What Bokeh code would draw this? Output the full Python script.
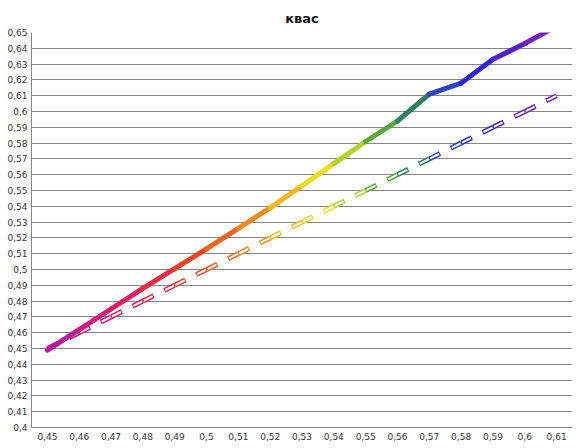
from bokeh.plotting import figure
from bokeh.models import ColumnDataSource, FactorRange, Range1d, FixedTicker
from bokeh.embed import file_html
from bokeh.resources import INLINE

# ---- data ----
x_labels = ["0,45", "0,46", "0,47", "0,48", "0,49", "0,5", "0,51", "0,52", "0,53",
            "0,54", "0,55", "0,56", "0,57", "0,58", "0,59", "0,6", "0,61"]
solid_values = [0.449, 0.462, 0.475, 0.488, 0.5005, 0.513, 0.526, 0.539, 0.553,
                0.567, 0.581, 0.594, 0.611, 0.618, 0.633, 0.643, 0.654]
diagonal_values = [0.45, 0.46, 0.47, 0.48, 0.49, 0.50, 0.51, 0.52, 0.53,
                   0.54, 0.55, 0.56, 0.57, 0.58, 0.59, 0.60, 0.61]
y_ticks = [0.40, 0.41, 0.42, 0.43, 0.44, 0.45, 0.46, 0.47, 0.48, 0.49, 0.50, 0.51, 0.52,
           0.53, 0.54, 0.55, 0.56, 0.57, 0.58, 0.59, 0.60, 0.61, 0.62, 0.63, 0.64, 0.65]
y_tick_labels = ["0,4", "0,41", "0,42", "0,43", "0,44", "0,45", "0,46", "0,47", "0,48", "0,49",
                 "0,5", "0,51", "0,52", "0,53", "0,54", "0,55", "0,56", "0,57", "0,58", "0,59",
                 "0,6", "0,61", "0,62", "0,63", "0,64", "0,65"]
title_text = "квас"

# gradient colours per interval (style)
seg_colors = ["#b8189a", "#d41880", "#e21c62", "#e62a44", "#ea4228", "#ee6420", "#f28a1e",
              "#f4b81e", "#ecdc20", "#b4d02a", "#5aa83a", "#2a8060", "#2a44c4", "#2a26d6",
              "#5020cc", "#7a1cc0"]

src_solid = ColumnDataSource(dict(x0=x_labels[:-1], x1=x_labels[1:],
                                  y0=solid_values[:-1], y1=solid_values[1:], c=seg_colors))
src_diag = ColumnDataSource(dict(x0=x_labels[:-1], x1=x_labels[1:],
                                 y0=diagonal_values[:-1], y1=diagonal_values[1:], c=seg_colors))

p = figure(width=585, height=448, x_range=FactorRange(*x_labels),
           y_range=Range1d(0.40, 0.65), output_backend="svg", toolbar_location=None,
           min_border_left=31, min_border_right=13, min_border_top=32, min_border_bottom=21)

p.title.text = title_text
p.title.align = "center"
p.title.text_font = "DejaVu Sans"
p.title.text_font_size = "13px"
p.title.text_font_style = "bold"
p.title.text_color = "#111111"
p.title.standoff = 14
p.outline_line_color = None
p.background_fill_color = "white"
p.border_fill_color = "white"

# axes
p.yaxis.ticker = FixedTicker(ticks=y_ticks)
p.yaxis.major_label_overrides = {t: l for t, l in zip(y_ticks, y_tick_labels)}
for ax in (p.xaxis[0], p.yaxis[0]):
    ax.major_tick_in = 0
    ax.major_tick_out = 0
    ax.minor_tick_in = 0
    ax.minor_tick_out = 0
    ax.axis_line_color = "#868686"
    ax.major_label_text_font = "DejaVu Sans"
    ax.major_label_text_font_size = "9px"
    ax.major_label_text_color = "#333333"
p.yaxis.major_label_standoff = 4
p.xaxis.major_label_standoff = 5
p.xgrid.grid_line_color = None
p.ygrid.grid_line_color = "#868686"
p.ygrid.grid_line_width = 1

# dashed hollow diagonal
p.segment("x0", "y0", "x1", "y1", source=src_diag, line_color="c", line_width=5,
          line_dash="12 12 12 100", line_cap="butt")
p.segment("x0", "y0", "x1", "y1", source=src_diag, line_color="white", line_width=2,
          line_dash="0 1 10 14 10 100", line_cap="butt")

# solid gradient line
p.segment("x0", "y0", "x1", "y1", source=src_solid, line_color="c", line_width=5,
          line_cap="round")

open("out.html", "w").write(file_html(p, INLINE))
